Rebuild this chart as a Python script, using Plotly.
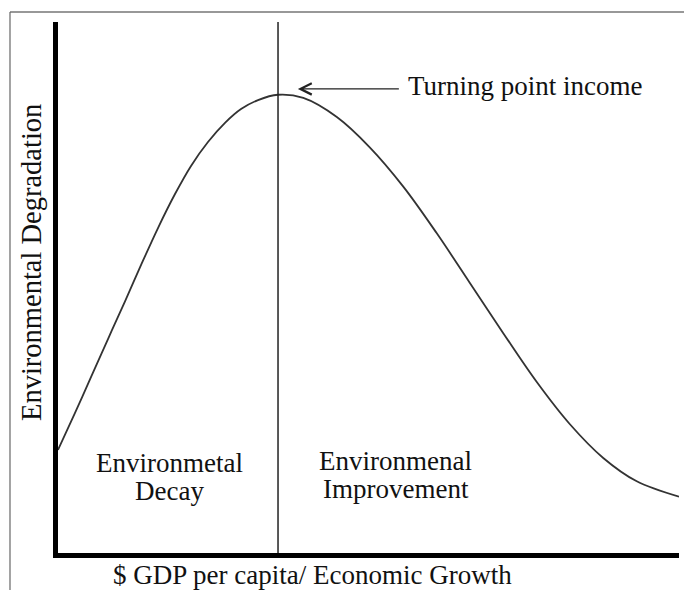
import plotly.graph_objects as go

# Environmental Kuznets curve (arbitrary units 0..10)
income = [0.0, 0.274, 0.531, 0.805, 1.079, 1.336, 1.610, 1.884, 2.142, 2.415, 2.689, 2.947, 3.221,
          3.543, 3.95, 4.49, 5.02, 5.56, 6.10, 6.63, 7.17, 7.71, 8.24, 8.78, 9.32, 10.0]
degradation = [1.94, 2.64, 3.31, 4.03, 4.74, 5.42, 6.12, 6.76, 7.29, 7.74, 8.10, 8.36, 8.53,
               8.63, 8.57, 8.21, 7.64, 6.90, 6.02, 5.09, 4.14, 3.22, 2.43, 1.79, 1.35, 1.06]
turning_point_x = 3.543

x_title = "$ GDP per capita/ Economic Growth"
y_title = "Environmental Degradation"
turning_label = "Turning point income"
left_region = ["Environmetal", "Decay"]
right_region = ["Environmenal", "Improvement"]

FONT = "Liberation Serif, Times New Roman, serif"
FS = 27

fig = go.Figure()
fig.add_trace(go.Scatter(
    x=income, y=degradation, mode="lines",
    line=dict(color="#333333", width=1.8, shape="spline", smoothing=1.0),
    hoverinfo="skip", showlegend=False,
))

fig.update_layout(
    width=684, height=590,
    margin=dict(l=58, r=5, t=22, b=37),
    paper_bgcolor="white", plot_bgcolor="white",
    font=dict(family=FONT, size=FS, color="#111111"),
    showlegend=False,
    xaxis=dict(range=[0, 10], showgrid=False, zeroline=False, showticklabels=False,
               ticks="", showline=True, linewidth=5, linecolor="black", fixedrange=True),
    yaxis=dict(range=[0, 10], showgrid=False, zeroline=False, showticklabels=False,
               ticks="", showline=True, linewidth=5, linecolor="black", fixedrange=True),
)

# vertical line at turning point
fig.add_shape(type="line", xref="x", yref="y domain", x0=turning_point_x, x1=turning_point_x,
              y0=0, y1=1, line=dict(color="#222222", width=1.5))

# page border (top and left)
fig.add_shape(type="line", xref="paper", yref="paper", x0=-0.0773, x1=1.01, y0=1.0188, y1=1.0188,
              line=dict(color="#333333", width=1.2))
fig.add_shape(type="line", xref="paper", yref="paper", x0=-0.0773, x1=-0.0773, y0=1.0188, y1=-0.08,
              line=dict(color="#666666", width=1.2))

# arrow to turning point
fig.add_annotation(x=turning_point_x + 0.32, y=8.74, ax=turning_point_x + 1.97, ay=8.74,
                   xref="x", yref="y", axref="x", ayref="y", text="",
                   showarrow=True, arrowhead=5, arrowsize=1.6, arrowwidth=1.4, arrowcolor="#222222")
fig.add_annotation(x=5.6, y=8.79, xref="x", yref="y", text=turning_label, showarrow=False,
                   xanchor="left", yanchor="middle")

fig.add_annotation(x=1.80, y=1.69, xref="x", yref="y", text=left_region[0], showarrow=False)
fig.add_annotation(x=1.80, y=1.17, xref="x", yref="y", text=left_region[1], showarrow=False)
fig.add_annotation(x=5.44, y=1.73, xref="x", yref="y", text=right_region[0], showarrow=False)
fig.add_annotation(x=5.44, y=1.21, xref="x", yref="y", text=right_region[1], showarrow=False)

fig.add_annotation(x=0.41, y=-0.0414, xref="paper", yref="paper", text=x_title, showarrow=False,
                   xanchor="center", yanchor="middle")
fig.add_annotation(x=-0.0435, y=0.548, xref="paper", yref="paper", text=y_title, showarrow=False,
                   textangle=-90, xanchor="center", yanchor="middle", font=dict(size=28.5))

fig.write_html("out.html", config={"displayModeBar": False},
               post_script="document.body.style.margin='0';")
